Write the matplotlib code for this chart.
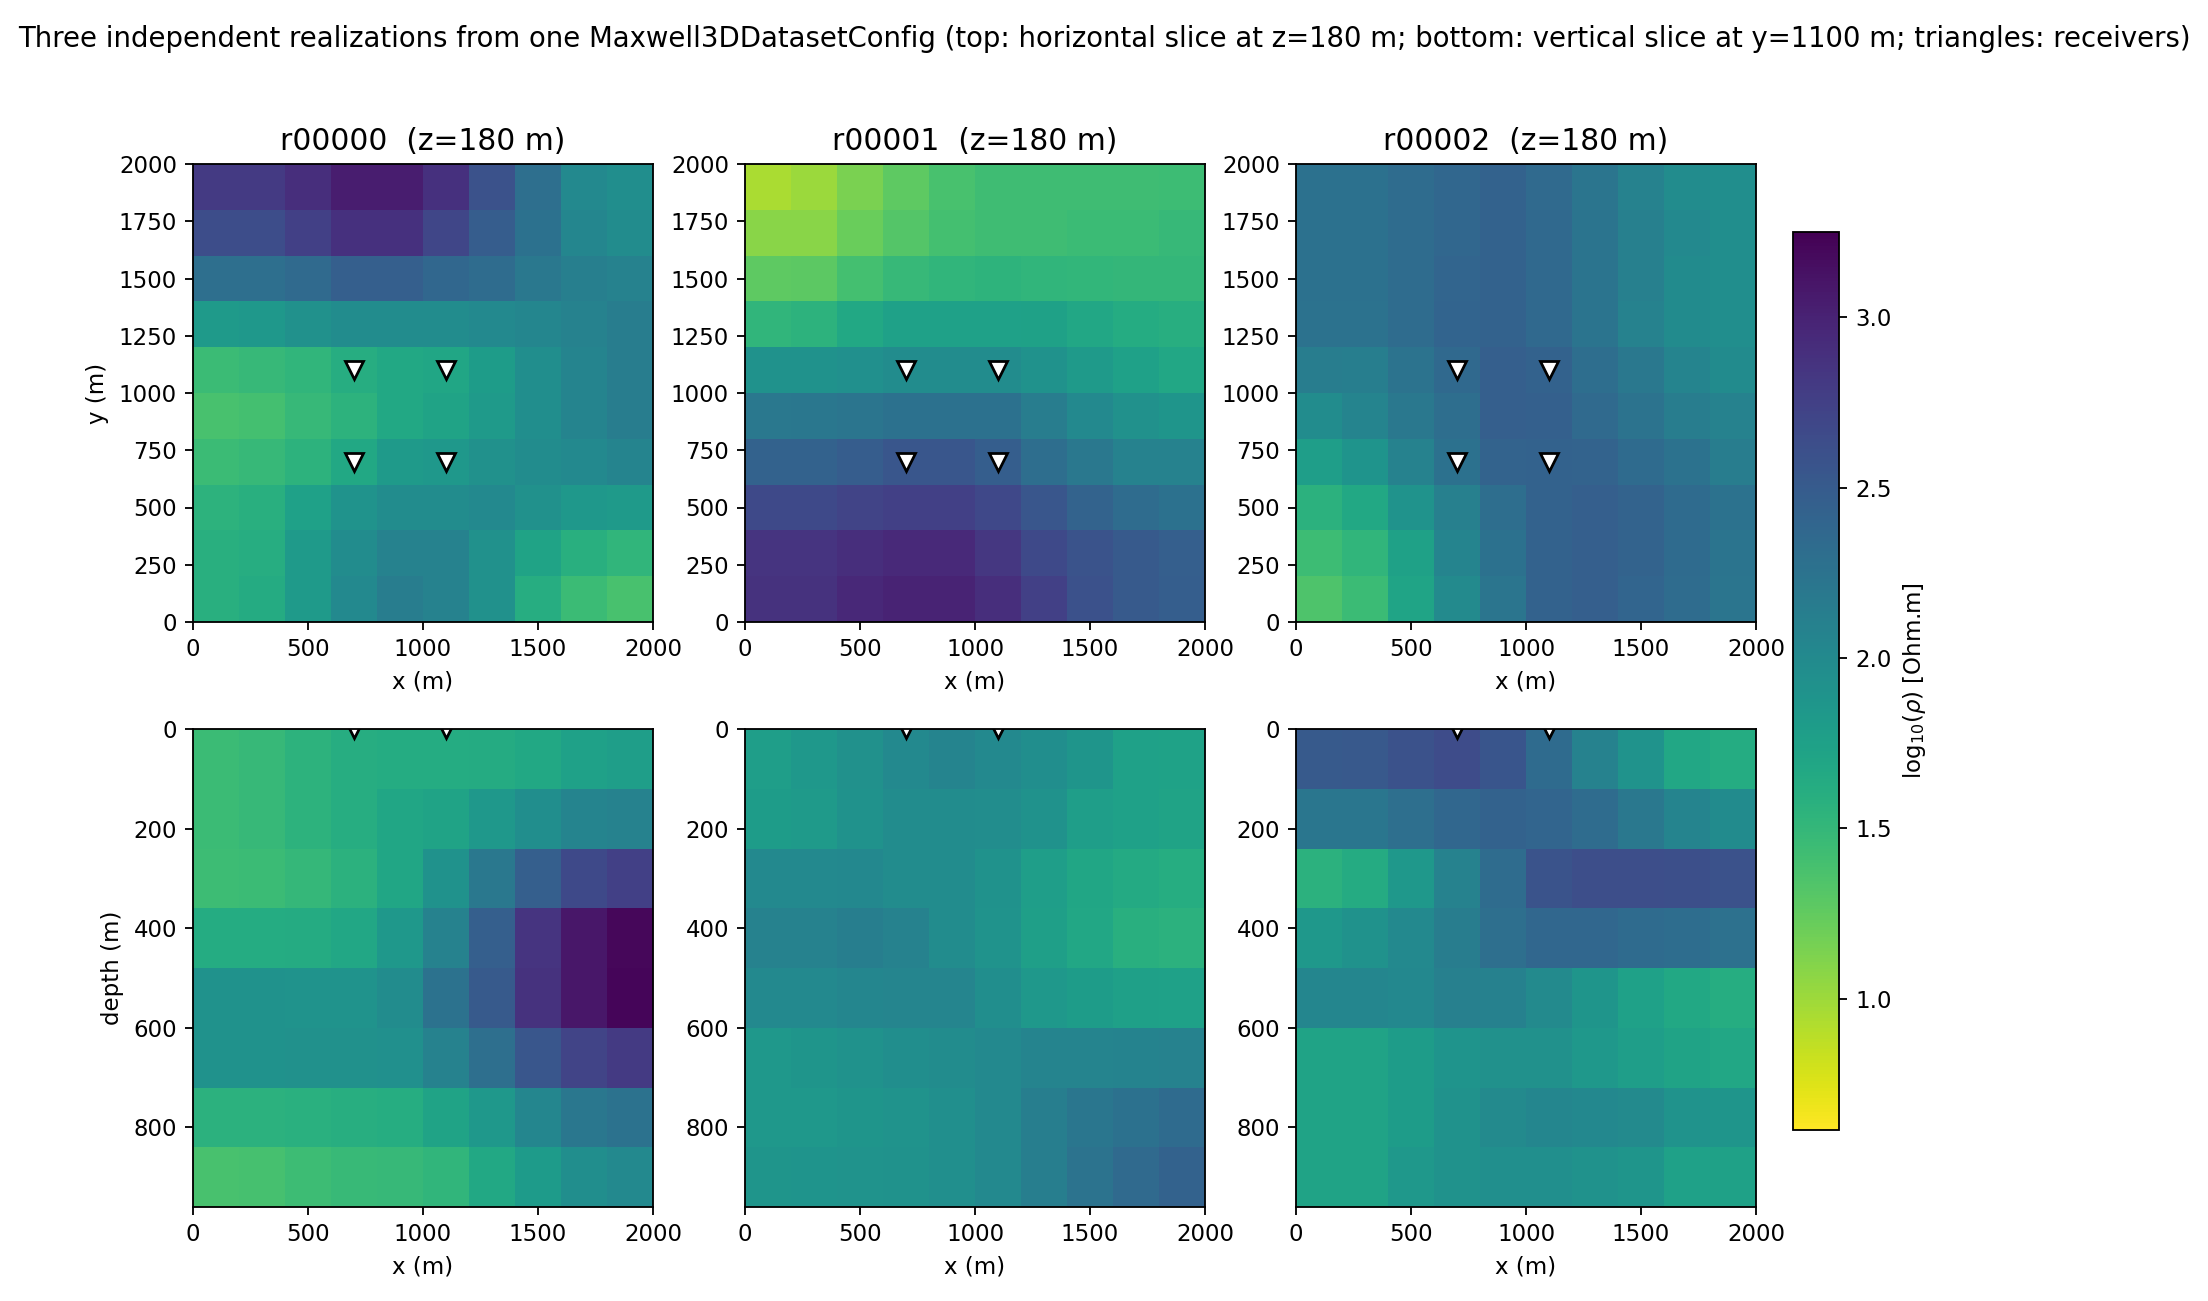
import numpy as np
import matplotlib
matplotlib.use("Agg")
import matplotlib.pyplot as plt

# grid
x_edges = np.arange(0, 2001, 200)
y_edges = np.arange(0, 2001, 200)
z_edges = np.arange(0, 961, 120)
rx = [700, 1100, 700, 1100]
ry = [1100, 1100, 700, 700]
names = ["r00000", "r00001", "r00002"]
vmin, vmax = 0.615, 3.25

# log10(rho) at z=180 m, rows listed from y=2000 (top) down to y=0
r0_top = [
    [2.80, 2.80, 2.91, 3.04, 3.04, 2.88, 2.59, 2.30, 2.01, 1.96],
    [2.64, 2.64, 2.75, 2.88, 2.88, 2.70, 2.48, 2.27, 2.04, 1.98],
    [2.30, 2.30, 2.35, 2.46, 2.46, 2.38, 2.33, 2.19, 2.12, 2.09],
    [1.82, 1.85, 1.93, 1.98, 1.98, 1.98, 2.01, 2.04, 2.09, 2.14],
    [1.45, 1.48, 1.53, 1.61, 1.67, 1.69, 1.80, 1.96, 2.06, 2.14],
    [1.38, 1.40, 1.48, 1.56, 1.67, 1.72, 1.82, 1.96, 2.06, 2.14],
    [1.45, 1.48, 1.56, 1.67, 1.82, 1.85, 1.93, 1.98, 2.01, 2.06],
    [1.56, 1.59, 1.75, 1.90, 1.98, 1.98, 2.01, 1.93, 1.85, 1.82],
    [1.59, 1.61, 1.82, 1.98, 2.09, 2.09, 1.93, 1.72, 1.59, 1.53],
    [1.59, 1.64, 1.82, 2.01, 2.14, 2.09, 1.93, 1.61, 1.45, 1.38],
]
r1_top = [
    [0.95, 1.01, 1.14, 1.27, 1.38, 1.43, 1.43, 1.43, 1.43, 1.44],
    [1.08, 1.08, 1.22, 1.32, 1.40, 1.43, 1.43, 1.45, 1.45, 1.48],
    [1.27, 1.28, 1.40, 1.48, 1.53, 1.55, 1.53, 1.52, 1.51, 1.51],
    [1.53, 1.56, 1.67, 1.75, 1.75, 1.75, 1.74, 1.68, 1.63, 1.60],
    [1.92, 1.92, 1.94, 1.98, 1.98, 1.98, 1.92, 1.82, 1.75, 1.68],
    [2.19, 2.21, 2.23, 2.27, 2.27, 2.27, 2.14, 2.01, 1.93, 1.88],
    [2.43, 2.43, 2.48, 2.54, 2.54, 2.47, 2.31, 2.19, 2.09, 2.08],
    [2.67, 2.67, 2.72, 2.75, 2.75, 2.68, 2.55, 2.42, 2.33, 2.27],
    [2.85, 2.85, 2.91, 2.95, 2.95, 2.83, 2.67, 2.58, 2.51, 2.46],
    [2.87, 2.87, 2.96, 3.00, 3.00, 2.91, 2.75, 2.60, 2.51, 2.47],
]
r2_top = [
    [2.27, 2.27, 2.33, 2.38, 2.43, 2.35, 2.23, 2.09, 1.98, 1.96],
    [2.27, 2.27, 2.33, 2.38, 2.43, 2.36, 2.24, 2.11, 2.01, 1.96],
    [2.27, 2.27, 2.33, 2.40, 2.43, 2.36, 2.24, 2.11, 1.99, 1.96],
    [2.26, 2.26, 2.33, 2.41, 2.43, 2.36, 2.24, 2.09, 1.99, 1.96],
    [2.14, 2.13, 2.25, 2.36, 2.46, 2.43, 2.31, 2.19, 2.06, 1.99],
    [1.98, 2.06, 2.19, 2.31, 2.46, 2.45, 2.35, 2.25, 2.14, 2.08],
    [1.78, 1.89, 2.08, 2.27, 2.42, 2.43, 2.42, 2.34, 2.26, 2.14],
    [1.57, 1.67, 1.90, 2.11, 2.31, 2.43, 2.46, 2.42, 2.34, 2.26],
    [1.44, 1.53, 1.74, 2.06, 2.27, 2.43, 2.46, 2.42, 2.34, 2.24],
    [1.35, 1.45, 1.71, 2.00, 2.23, 2.43, 2.46, 2.40, 2.33, 2.23],
]

# log10(rho) at y=1100 m, rows listed from depth 0 down to 960 m
r0_side = [
    [1.45, 1.48, 1.56, 1.61, 1.63, 1.63, 1.64, 1.67, 1.75, 1.78],
    [1.45, 1.48, 1.56, 1.61, 1.69, 1.72, 1.84, 1.96, 2.06, 2.09],
    [1.44, 1.45, 1.49, 1.57, 1.69, 1.92, 2.19, 2.46, 2.67, 2.75],
    [1.63, 1.63, 1.64, 1.68, 1.85, 2.09, 2.46, 2.85, 3.09, 3.20],
    [1.92, 1.92, 1.90, 1.90, 1.98, 2.26, 2.51, 2.87, 3.09, 3.21],
    [1.92, 1.92, 1.93, 1.93, 1.94, 2.08, 2.30, 2.54, 2.72, 2.80],
    [1.57, 1.57, 1.58, 1.60, 1.62, 1.72, 1.84, 2.04, 2.21, 2.26],
    [1.38, 1.39, 1.44, 1.47, 1.48, 1.53, 1.67, 1.81, 1.96, 2.01],
]
r1_side = [
    [1.78, 1.85, 1.93, 2.01, 2.06, 2.01, 1.96, 1.88, 1.75, 1.73],
    [1.80, 1.82, 1.92, 1.98, 1.98, 1.97, 1.92, 1.78, 1.75, 1.72],
    [2.01, 2.01, 2.02, 1.98, 1.98, 1.92, 1.78, 1.69, 1.65, 1.62],
    [2.09, 2.09, 2.13, 2.09, 1.98, 1.90, 1.77, 1.68, 1.59, 1.57],
    [2.01, 2.01, 2.04, 2.05, 2.05, 1.96, 1.85, 1.80, 1.76, 1.75],
    [1.85, 1.88, 1.92, 1.96, 1.98, 2.01, 2.06, 2.06, 2.07, 2.09],
    [1.84, 1.85, 1.88, 1.90, 1.95, 2.01, 2.13, 2.22, 2.27, 2.34],
    [1.88, 1.89, 1.90, 1.92, 1.95, 2.01, 2.13, 2.25, 2.35, 2.43],
]
r2_side = [
    [2.51, 2.52, 2.59, 2.65, 2.56, 2.34, 2.09, 1.90, 1.68, 1.63],
    [2.22, 2.22, 2.30, 2.38, 2.43, 2.40, 2.33, 2.19, 2.06, 1.99],
    [1.57, 1.64, 1.84, 2.09, 2.33, 2.58, 2.63, 2.63, 2.62, 2.59],
    [1.85, 1.92, 2.01, 2.14, 2.30, 2.38, 2.38, 2.34, 2.32, 2.28],
    [2.04, 2.04, 2.02, 2.11, 2.10, 2.00, 1.88, 1.75, 1.67, 1.62],
    [1.72, 1.72, 1.80, 1.89, 1.93, 1.93, 1.85, 1.78, 1.72, 1.68],
    [1.72, 1.72, 1.80, 1.91, 2.00, 2.04, 2.02, 2.00, 1.90, 1.88],
    [1.72, 1.72, 1.85, 1.91, 1.95, 1.95, 1.91, 1.88, 1.75, 1.74],
]

tops = [r0_top, r1_top, r2_top]
sides = [r0_side, r1_side, r2_side]

W, H = 2208, 1301
DPI = 165
fig = plt.figure(figsize=(W / DPI, H / DPI), dpi=DPI)

col_left = [193, 745, 1296]
col_w = 460


def px_axes(x0, y0, x1, y1):
    return fig.add_axes([x0 / W, 1 - y1 / H, (x1 - x0) / W, (y1 - y0) / H])


mk = dict(marker="v", ms=7.5, mfc="white", mec="black", mew=1.2, ls="none")

for i in range(3):
    # horizontal slice
    ax = px_axes(col_left[i], 164, col_left[i] + col_w, 622)
    data = np.flipud(np.array(tops[i]))
    im = ax.pcolormesh(x_edges, y_edges, data, cmap="viridis_r", vmin=vmin, vmax=vmax)
    ax.plot(rx, ry, **mk)
    ax.set_xlim(0, 2000)
    ax.set_ylim(0, 2000)
    ax.set_xticks([0, 500, 1000, 1500, 2000])
    ax.set_yticks(np.arange(0, 2001, 250))
    ax.set_title(f"{names[i]}  (z=180 m)", fontsize=13)
    ax.set_xlabel("x (m)")
    if i == 0:
        ax.set_ylabel("y (m)")

    # vertical slice
    ax2 = px_axes(col_left[i], 729, col_left[i] + col_w, 1207)
    ax2.pcolormesh(x_edges, z_edges, np.array(sides[i]), cmap="viridis_r", vmin=vmin, vmax=vmax)
    ax2.plot([700, 1100], [0, 0], **mk)
    ax2.set_xlim(0, 2000)
    ax2.set_ylim(960, 0)
    ax2.set_xticks([0, 500, 1000, 1500, 2000])
    ax2.set_yticks([0, 200, 400, 600, 800])
    ax2.set_xlabel("x (m)")
    if i == 0:
        ax2.set_ylabel("depth (m)")

cax = px_axes(1793, 232, 1839, 1130)
cb = fig.colorbar(im, cax=cax)
cb.set_label(r"log$_{10}$($\rho$) [Ohm.m]")

fig.suptitle("Three independent realizations from one Maxwell3DDatasetConfig "
             "(top: horizontal slice at z=180 m; bottom: vertical slice at y=1100 m; "
             "triangles: receivers)", fontsize=12, y=0.970, va="center")

fig.savefig("out.png", dpi=DPI)
